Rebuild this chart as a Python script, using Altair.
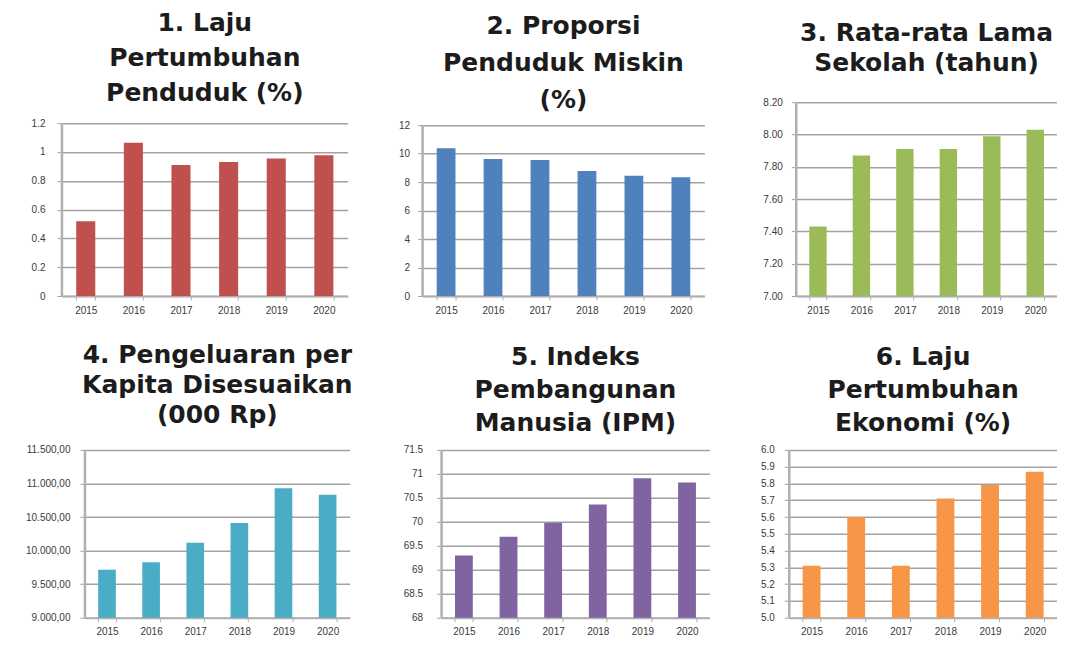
import altair as alt
import pandas as pd

# ---------------- data ----------------
years = ["2015", "2016", "2017", "2018", "2019", "2020"]

laju_penduduk = [0.52, 1.065, 0.91, 0.93, 0.955, 0.977]
penduduk_miskin = [10.38, 9.63, 9.56, 8.79, 8.44, 8.35]
lama_sekolah = [7.43, 7.87, 7.91, 7.91, 7.99, 8.03]
pengeluaran = [9715, 9825, 10115, 10410, 10930, 10830]
ipm = [69.30, 69.69, 69.98, 70.36, 70.91, 70.82]
laju_ekonomi = [5.31, 5.60, 5.31, 5.71, 5.79, 5.87]

ticks_1 = [0, 0.2, 0.4, 0.6, 0.8, 1.0, 1.2]
ticks_2 = [0, 2, 4, 6, 8, 10, 12]
ticks_3 = [7.0, 7.2, 7.4, 7.6, 7.8, 8.0, 8.2]
ticks_4 = [9000, 9500, 10000, 10500, 11000, 11500]
ticks_5 = [68, 68.5, 69, 69.5, 70, 70.5, 71, 71.5]
ticks_6 = [5.0, 5.1, 5.2, 5.3, 5.4, 5.5, 5.6, 5.7, 5.8, 5.9, 6.0]

titles = [
    ["1. Laju", "Pertumbuhan", "Penduduk (%)"],
    ["2. Proporsi", "Penduduk Miskin", "(%)"],
    ["3. Rata-rata Lama", "Sekolah (tahun)"],
    ["4. Pengeluaran per", "Kapita Disesuaikan", "(000 Rp)"],
    ["5. Indeks", "Pembangunan", "Manusia (IPM)"],
    ["6. Laju", "Pertumbuhan", "Ekonomi (%)"],
]

colors = ["#C0504D", "#4F81BD", "#9BBB59", "#4BACC6", "#8064A2", "#F79646"]

GRID = "#a3a3a3"
AXIS = "#b0b0b0"
LABEL = "#3a3a3a"

FMT_G = "format(datum.value, '~g')"
FMT_1 = "format(datum.value, '.1f')"
FMT_2 = "format(datum.value, '.2f')"
FMT_ID = ("replace(replace(replace(format(datum.value, ',.2f'), ',', '#'), '.', ','), '#', '.')")


def panel(title, values, ticks, color, width, height, label_expr,
          label_pad, title_offset, line_height, data_top=0, min_extent=30):
    lo, hi = ticks[0], ticks[-1]
    dom_hi = lo + (hi - lo) * height / (height - data_top)
    df = pd.DataFrame({"Tahun": years, "Nilai": values})
    yscale = alt.Scale(domain=[lo, dom_hi], nice=False, zero=False)
    yaxis = alt.Axis(values=ticks, tickCount=len(ticks), title=None,
                     domain=False, grid=True,
                     gridColor=GRID, gridWidth=1.5, tickColor=GRID,
                     tickSize=5, labelExpr=label_expr,
                     labelOverlap=False, labelBound=False, labelFlush=False,
                     labelPadding=label_pad, minExtent=min_extent,
                     labelFontSize=10, labelColor=LABEL,
                     labelFont="Liberation Sans")
    bars = alt.Chart(df).mark_bar(color=color).encode(
        x=alt.X("Tahun:N", sort=years,
                scale=alt.Scale(paddingInner=0.6, paddingOuter=0.3),
                axis=alt.Axis(title=None, labelAngle=0, tickBand="extent",
                              tickSize=4, tickColor=AXIS, domainColor=AXIS,
                              domainWidth=2, labelPadding=5, labelFontSize=10,
                              labelColor=LABEL, labelFont="Liberation Sans")),
        y=alt.Y("Nilai:Q", scale=yscale, axis=yaxis),
        y2=alt.datum(lo),
    )
    axis_line = alt.Chart(pd.DataFrame({"Nilai": [lo], "hi": [hi]})).mark_rule(
        color=AXIS, strokeWidth=2.5).encode(
        x=alt.value(0), y=alt.Y("Nilai:Q", scale=yscale, axis=yaxis), y2="hi:Q")
    return alt.layer(bars, axis_line).properties(
        width=width, height=height,
        title=alt.TitleParams(text=title, offset=title_offset,
                              lineHeight=line_height, fontSize=25,
                              font="DejaVu Sans", fontWeight="bold",
                              color="#1c1c1c", anchor="middle"))


def spacer(w, h):
    return alt.Chart(pd.DataFrame({"v": [0]})).mark_point(opacity=0).encode(
        x=alt.value(0), y=alt.value(0)).properties(width=w, height=h)


H1 = 194
H2 = 168

p1 = panel(titles[0], laju_penduduk, ticks_1, colors[0], 286, H1, FMT_G,
           label_pad=12, title_offset=-4, line_height=35, data_top=21,
           min_extent=54)
p2 = panel(titles[1], penduduk_miskin, ticks_2, colors[1], 282, H1, FMT_G,
           label_pad=8, title_offset=-11, line_height=37, data_top=23)
p3 = panel(titles[2], lama_sekolah, ticks_3, colors[2], 261, H1, FMT_2,
           label_pad=9, title_offset=21, line_height=30)
p4 = panel(titles[3], pengeluaran, ticks_4, colors[3], 265, H2, FMT_ID,
           label_pad=10, title_offset=17, line_height=30)
p5 = panel(titles[4], ipm, ticks_5, colors[4], 268, H2, FMT_G,
           label_pad=14, title_offset=9, line_height=33)
p6 = panel(titles[5], laju_ekonomi, ticks_6, colors[5], 268, H2, FMT_1,
           label_pad=10, title_offset=9, line_height=33)

row1 = alt.hconcat(p1, spacer(75, 10), p2, spacer(92, 10), p3,
                   spacing=0, bounds="flush")
row2 = alt.hconcat(spacer(23, 10), p4, spacer(92, 10), p5, spacer(80, 10), p6,
                   spacing=0, bounds="flush")

chart = alt.vconcat(row1, row2, spacing=28).properties(
    padding={"left": 0, "top": 3, "right": 0, "bottom": 0},
    background="white",
).configure_view(stroke=None).configure_axisY(labelOverlap=False)

chart.save("out.html", embed_options={"renderer": "svg", "actions": False})
